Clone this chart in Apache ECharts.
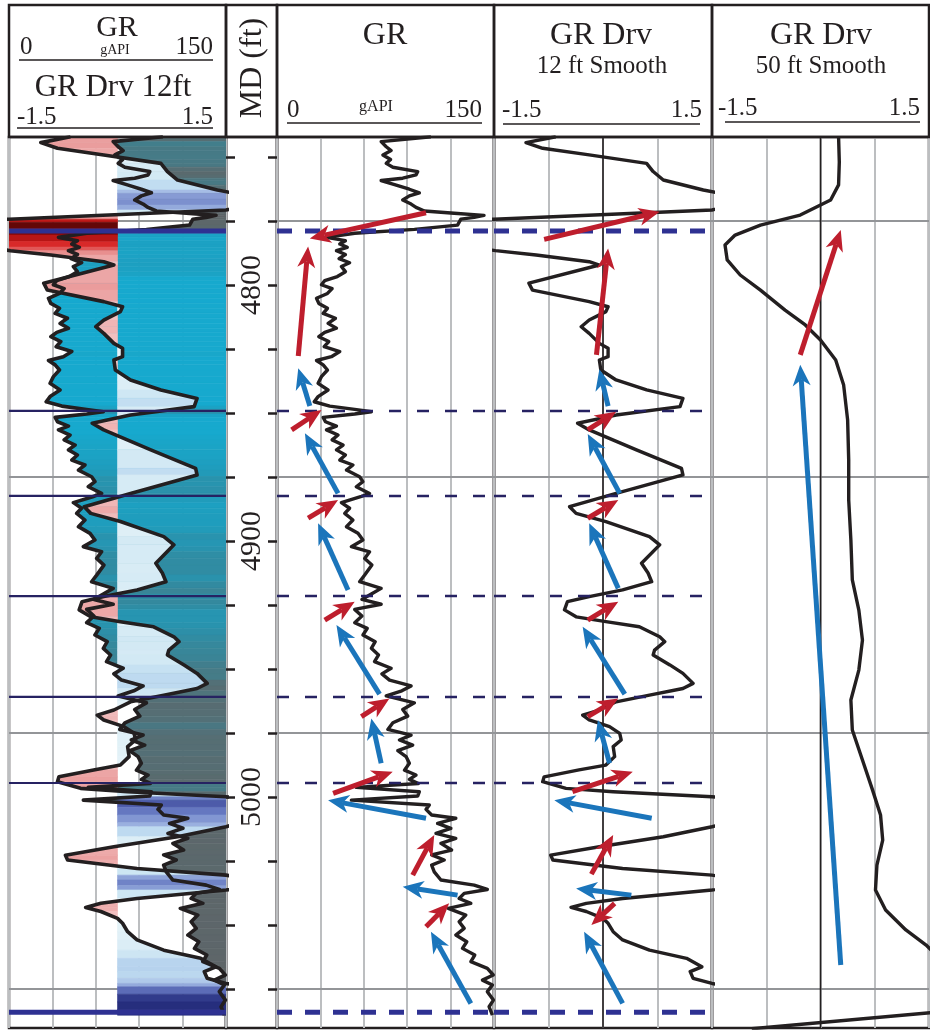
<!DOCTYPE html>
<html>
<head>
<meta charset="utf-8">
<title>GR derivative log</title>
<script src="https://cdn.jsdelivr.net/npm/echarts@6/dist/echarts.min.js"></script>
<style>
html, body { margin: 0; background: #fff; }
#main { width: 930px; height: 1030px; }
</style>
</head>
<body>
<div id="main"></div>
<script>
// depth window (ft MD)
var depthTop = 4742.2, depthBottom = 5090.2;

// GR log, [depth, gAPI]
var grCurve = [
  [4742.1,106.4],[4744.0,72.0],[4746.0,75.5],[4747.5,78.9],[4749.2,73.2],[4751.0,78.5],[4752.5,75.5],[4754.0,80.1],
  [4755.7,97.3],[4757.0,96.1],[4758.3,86.9],[4759.2,72.0],[4761.0,82.4],[4762.6,91.5],[4764.0,98.4],[4765.2,91.5],
  [4766.8,86.9],[4768.4,92.7],[4769.7,96.1],[4771.1,101.9],[4772.0,122.5],[4772.8,143.1],[4773.6,136.3],[4774.3,127.1],
  [4776.6,124.8],[4778.3,95.0],[4779.8,53.7],[4781.4,34.2],
  [4782.7,47.3],[4784.0,43.4],[4785.3,48.6],[4786.6,41.1],[4788.1,47.3],[4789.7,42.9],[4791.3,50.2],[4792.8,44.5],
  [4794.8,47.3],[4796.7,41.7],[4798.3,33.0],[4799.9,30.7],[4801.4,38.1],[4803.3,34.9],[4805.2,27.3],[4807.2,28.9],
  [4809.1,34.9],[4811.1,31.9],[4813.0,40.4],[4815.0,35.3],[4816.9,41.1],[4818.5,33.0],[4820.2,28.9],[4822.1,35.8],
  [4824.1,32.6],[4826.0,43.4],[4828.0,37.6],[4829.5,27.3],[4831.2,31.9],[4833.2,34.9],[4835.8,30.7],[4838.4,28.4],
  [4841.0,35.3],[4843.6,28.4],[4845.6,25.7],[4847.3,36.5],[4848.6,53.7],[4849.5,65.2],[4850.4,53.7],[4851.7,31.9],
  [4853.4,33.5],[4855.1,41.1],[4856.6,34.2],[4858.6,42.2],[4860.5,38.1],[4862.5,45.7],[4864.4,41.1],[4866.4,47.3],
  [4868.4,43.4],[4870.3,52.5],[4872.3,48.0],[4874.9,57.1],[4876.8,59.4],[4878.8,54.8],[4881.4,64.0],[4882.7,57.8],
  [4885.0,44.5],[4887.2,50.2],[4889.2,46.8],[4891.8,52.5],[4894.4,48.0],[4897.0,56.0],[4899.6,59.4],[4902.2,51.4],
  [4904.2,64.0],[4906.8,60.6],[4909.4,65.6],
  [4913.3,60.6],[4915.9,57.1],[4918.5,72.0],[4920.7,65.2],[4922.8,58.7],[4924.7,72.0],[4926.7,53.7],[4929.3,58.7],
  [4931.9,53.7],[4934.1,62.4],[4936.7,59.4],[4939.3,67.9],[4941.9,65.2],[4944.5,70.2],[4947.1,67.4],[4949.7,78.9],
  [4951.9,72.5],[4954.3,77.8],[4956.6,92.7],[4958.5,86.3],[4960.5,75.5],[4963.2,95.0],[4965.8,86.9],[4968.4,90.4],
  [4971.0,80.1],[4973.6,76.6],[4975.8,92.7],[4977.7,84.6],[4979.7,93.8],[4981.9,83.5],[4984.2,89.2],[4986.8,91.5],
  [4989.5,88.1],[4991.4,96.1],[4993.1,91.5],[4994.7,97.7],[4996.2,54.8],[4997.9,98.4],[4999.6,97.3],[5001.2,51.4],
  [5003.1,105.3],[5004.8,103.0],[5007.0,106.9],[5008.3,123.6],[5010.3,111.0],[5012.2,120.2],[5014.2,109.9],[5016.1,123.6],
  [5018.1,113.3],[5020.7,120.7],[5022.6,106.9],[5024.6,115.6],[5026.6,106.9],[5029.2,108.7],[5032.4,113.3],[5034.4,136.3],
  [5036.1,145.4],[5037.6,129.4],[5039.6,125.9],[5041.5,134.0],[5043.5,118.4],[5046.1,130.5],[5048.7,125.9],[5051.3,129.4],
  [5053.9,123.6],[5056.5,131.2],[5059.1,128.2],[5061.7,136.7],[5064.3,134.0],[5066.9,145.4],[5069.5,149.5],[5071.5,142.0],
  [5073.4,148.9],[5076.0,145.4],[5079.3,149.6],[5081.9,146.6],[5085.2,148.9]
];

// GR derivative, 12 ft smooth, [depth, value]
var drv12Curve = [
  [4742.1,-0.65],[4744.4,-1.06],[4746.6,-0.83],[4749.2,-0.19],[4752.5,0.60],[4755.7,0.69],[4759.0,0.83],[4762.9,1.38],
  [4764.2,1.62],[4766.5,1.9],[4768.8,1.8],[4770.7,1.5],[4774.3,-1.5],[4775.5,-2.9],[4778.0,-3.0],[4780.5,-2.5],
  [4783.0,-2.1],[4785.2,-1.8],[4786.6,-1.48],[4788.3,-0.92],[4790.9,-0.19],[4792.2,-0.05],[4799.3,-1.02],[4802.0,-0.97],
  [4806.5,-0.19],[4808.5,0.07],[4810.4,0.04],[4813.7,-0.19],[4816.3,-0.30],[4818.9,-0.19],[4822.8,-0.05],[4824.7,0.07],
  [4828.0,0.07],[4829.3,-0.05],[4833.2,-0.03],[4837.1,0.18],[4841.0,0.60],[4844.3,1.10],[4847.5,1.06],[4850.8,0.18],
  [4854.0,-0.35],[4856.6,-0.19],[4864.4,0.46],[4871.6,1.08],[4874.2,1.10],[4881.4,0.18],[4886.6,-0.46],[4889.2,-0.37],
  [4892.4,0.04],[4898.3,0.64],[4901.5,0.78],[4908.7,0.53],[4912.5,0.62],[4915.9,0.67],[4919.1,0.27],[4921.7,-0.19],
  [4923.7,-0.49],[4926.9,-0.53],[4929.6,-0.37],[4931.5,0.04],[4933.5,0.50],[4937.4,0.78],[4939.3,0.85],[4942.6,0.71],
  [4944.5,0.69],[4948.4,0.92],[4951.7,1.10],[4955.6,1.24],[4957.6,1.10],[4960.2,0.64],[4962.8,0.18],[4966.0,-0.05],
  [4968.0,-0.28],[4969.9,-0.19],[4972.5,0.09],[4975.1,0.23],[4977.7,0.25],[4980.3,0.14],[4984.2,0.16],[4987.5,0.04],
  [4989.4,-0.33],[4992.1,-0.81],[4994.0,-0.83],[4996.6,-0.51],[4997.9,0.14],[4999.9,1.50],[5001.2,2.4],[5004.0,2.2],
  [5007.0,1.9],[5010.0,1.7],[5011.6,1.50],[5015.5,0.83],[5019.4,-0.05],[5022.7,-0.72],[5024.6,-0.69],[5027.9,0.27],
  [5030.5,1.50],[5032.4,1.9],[5034.5,2.0],[5036.3,1.50],[5039.6,0.27],[5041.5,-0.23],[5043.1,-0.44],[5044.7,-0.23],
  [5047.4,0.00],[5049.3,0.07],[5052.6,0.14],[5055.8,0.27],[5059.8,0.64],[5063.0,1.15],[5066.3,1.36],[5068.2,1.20],
  [5070.8,1.24],[5072.8,1.50],[5074.1,1.8],[5077.0,2.5],[5080.0,2.9],[5083.0,3.0],[5085.2,3.0]
];

// GR derivative, 50 ft smooth, [depth, value]
var drv50Curve = [
  [4742.2,0.25],[4752.0,0.26],[4760.9,0.25],[4766.8,0.14],[4772.7,-0.28],[4776.6,-0.83],[4780.5,-1.18],[4784.4,-1.32],
  [4790.2,-1.29],[4796.1,-1.11],[4802.0,-0.83],[4809.8,-0.49],[4815.6,-0.21],[4821.5,0.0],[4829.3,0.21],[4839.1,0.32],
  [4852.7,0.375],[4868.4,0.39],[4884.0,0.39],[4899.6,0.42],[4915.2,0.44],[4927.0,0.53],[4938.7,0.58],[4950.4,0.53],
  [4962.1,0.42],[4973.8,0.44],[4985.5,0.58],[4997.3,0.72],[5007.0,0.83],[5016.8,0.86],[5026.6,0.78],[5036.3,0.76],
  [5044.1,0.90],[5051.9,1.18],[5057.8,1.46],[5061.7,1.6],[5070.0,1.9],[5078.0,1.9],[5084.0,1.6],[5090.5,-0.95]
];

var tickDepths = [4750,4775,4800,4825,4850,4875,4900,4925,4950,4975,5000,5025,5050,5075];
var labelDepths = [4800,4900,5000];
var gridDepths = [4775,4875,4975,5075];
var boundaryDepths = [4778.9,5084.0];
var markerDepths = [4849.2,4882.4,4921.5,4960.9,4994.5];

// trend arrows: [fromValue, fromDepth, toValue, toDepth]
var grRedArrows = [
  [103.0,4771.8,22.7,4781.8],[14.7,4827.7,21.5,4785.0],[10.1,4856.6,30.8,4848.8],[21.5,4891.1,42.2,4884.0],
  [33.0,4930.9,53.7,4923.7],[58.3,4968.6,77.7,4961.5],[38.8,4998.6,80.0,4990.1],[93.8,5030.5,108.7,5014.8],
  [103.0,5050.7,119.0,5041.5]
];
var grBlueArrows = [
  [22.7,4847.3,14.7,4832.5],[42.2,4881.4,19.3,4857.9],[49.1,4919.1,28.4,4893.1],[70.9,4959.8,41.1,4932.8],
  [72.0,4986.8,65.2,4969.3],[103.0,5008.3,35.3,5001.2],[124.8,5038.3,86.9,5035.0],[134.0,5080.6,106.4,5052.6]
];
var drv12RedArrows = [
  [-0.81,4782.2,0.78,4771.4],[-0.09,4827.3,0.07,4785.7],[-0.21,4856.6,0.18,4849.5],[-0.21,4891.1,0.21,4884.0],
  [-0.21,4930.9,0.21,4923.7],[-0.21,4968.6,0.21,4961.5],[-0.42,4997.9,0.41,4990.1],[-0.16,5030.1,0.14,5014.8],
  [0.16,5041.5,-0.16,5050.0]
];
var drv12BlueArrows = [
  [0.07,4847.3,-0.05,4832.9],[0.23,4881.4,-0.21,4858.2],[0.21,4918.5,-0.19,4893.1],[0.30,4959.8,-0.28,4933.5],
  [0.09,4986.8,-0.07,4969.9],[0.67,5008.3,-0.67,5001.2],[0.39,5038.3,-0.37,5035.7],[0.27,5080.6,-0.26,5052.6]
];
var drv50RedArrows = [[-0.28,4827.3,0.28,4778.5]];
var drv50BlueArrows = [[0.28,5065.6,-0.28,4831.2]];

var INK = '#231f20';
var SERIF = 'Liberation Serif';
var RED = '#be1e2d', BLUE = '#1b75bb';

// colour ramps for the variable fills
var grRamp = [[0,'#14aad0'],[38,'#17a9ce'],[50,'#1f9dbd'],[62,'#2e8ea6'],[72,'#3f808f'],[82,'#51727a'],[95,'#5a6a6e'],[150,'#5f6467']];
var negRamp = [[0,'#f3c8c8'],[0.4,'#eda9a9'],[1.1,'#e99a9a'],[1.5,'#e46c6c'],[2.0,'#d72222'],[2.5,'#a10e0e'],[3.0,'#5c0606']];
var posRamp = [[0,'#e6f3f8'],[0.8,'#d2e9f4'],[1.2,'#bcd9f0'],[1.5,'#a6bde6'],[2.0,'#6a7cc4'],[2.5,'#3a4597'],[3.0,'#242b7a']];

function hexRgb(h) {
  return [parseInt(h.substr(1,2),16), parseInt(h.substr(3,2),16), parseInt(h.substr(5,2),16)];
}
function ramp(stops, v) {
  if (v <= stops[0][0]) return stops[0][1];
  for (var i = 1; i < stops.length; i++) {
    if (v <= stops[i][0]) {
      var t = (v - stops[i-1][0]) / (stops[i][0] - stops[i-1][0]);
      var a = hexRgb(stops[i-1][1]), b = hexRgb(stops[i][1]);
      return 'rgb(' + Math.round(a[0]+(b[0]-a[0])*t) + ',' + Math.round(a[1]+(b[1]-a[1])*t) + ',' + Math.round(a[2]+(b[2]-a[2])*t) + ')';
    }
  }
  return stops[stops.length-1][1];
}
function drvColor(v) { return v < 0 ? ramp(negRamp, -v) : ramp(posRamp, v); }

// [depth, value] pairs -> segments [v0, d0, v1, d1]
function segments(curve) {
  var out = [];
  for (var i = 0; i < curve.length - 1; i++) out.push([curve[i][1], curve[i][0], curve[i+1][1], curve[i+1][0]]);
  return out;
}
function xy(curve) { return curve.map(function (p) { return [p[1], p[0]]; }); }

function poly(pts, c) {
  return { type: 'polygon', shape: { points: pts }, style: { fill: c, stroke: c, lineWidth: 0.6 } };
}

function grFill(params, api) {
  var g0 = api.value(0), d0 = api.value(1), g1 = api.value(2), d1 = api.value(3);
  return poly([api.coord([g0,d0]), api.coord([g1,d1]), api.coord([150,d1]), api.coord([150,d0])], ramp(grRamp, (g0+g1)/2));
}

function drvFill(params, api) {
  var v0 = api.value(0), d0 = api.value(1), v1 = api.value(2), d1 = api.value(3);
  var kids = [];
  if (v0 * v1 >= 0) {
    kids.push(poly([api.coord([v0,d0]), api.coord([v1,d1]), api.coord([0,d1]), api.coord([0,d0])], drvColor((v0+v1)/2)));
  } else {
    var dc = d0 + (d1 - d0) * v0 / (v0 - v1);
    kids.push(poly([api.coord([v0,d0]), api.coord([0,dc]), api.coord([0,d0])], drvColor(v0/2)));
    kids.push(poly([api.coord([0,dc]), api.coord([v1,d1]), api.coord([0,d1])], drvColor(v1/2)));
  }
  return { type: 'group', children: kids };
}

function lineCurve(xi, curve, w) {
  return {
    type: 'line', xAxisIndex: xi, yAxisIndex: yOf[xi], data: xy(curve), symbol: 'none', silent: true, z: 5,
    lineStyle: { color: INK, width: w, join: 'round' }
  };
}

function hLines(xi, depths, color, width, dash, z) {
  return {
    type: 'custom', xAxisIndex: xi, yAxisIndex: yOf[xi], silent: true, z: z, clip: true,
    data: depths.map(function (d) { return [0, d]; }),
    renderItem: function (params, api) {
      var cs = params.coordSys;
      var y = api.coord([0, api.value(1)])[1];
      return { type: 'line', shape: { x1: cs.x, y1: y, x2: cs.x + cs.width, y2: y },
        style: { stroke: color, lineWidth: width, lineDash: dash || null } };
    }
  };
}

function zeroLine(xi) {
  return {
    type: 'custom', xAxisIndex: xi, yAxisIndex: yOf[xi], silent: true, z: 3,
    data: [[0, depthTop]],
    renderItem: function (params, api) {
      var cs = params.coordSys;
      var x = api.coord([0, depthTop])[0];
      return { type: 'line', shape: { x1: x, y1: cs.y, x2: x, y2: cs.y + cs.height },
        style: { stroke: INK, lineWidth: 1.6 } };
    }
  };
}

function arrows(xi, list, color) {
  return {
    type: 'custom', xAxisIndex: xi, yAxisIndex: yOf[xi], silent: true, z: 8,
    data: list,
    renderItem: function (params, api) {
      var p1 = api.coord([api.value(0), api.value(1)]);
      var p2 = api.coord([api.value(2), api.value(3)]);
      var dx = p2[0] - p1[0], dy = p2[1] - p1[1];
      var len = Math.sqrt(dx*dx + dy*dy);
      var ux = dx / len, uy = dy / len, nx = -uy, ny = ux;
      var L = 21, W = 9, N = 6;
      var bx = p2[0] - ux*L, by = p2[1] - uy*L;
      var notch = [p2[0] - ux*(L-N), p2[1] - uy*(L-N)];
      return { type: 'group', children: [
        { type: 'line', shape: { x1: p1[0], y1: p1[1], x2: notch[0], y2: notch[1] }, style: { stroke: color, lineWidth: 5 } },
        { type: 'polygon', shape: { points: [p2, [bx + nx*W, by + ny*W], notch, [bx - nx*W, by - ny*W]] }, style: { fill: color } }
      ] };
    }
  };
}

// x axis index -> y axis index
var yOf = { 0: 0, 1: 0, 2: 1, 3: 3, 4: 4, 5: 5 };

function xAx(grid, min, max, interval, split) {
  return {
    type: 'value', gridIndex: grid, min: min, max: max, interval: interval, position: 'top',
    axisLine: { show: false }, axisTick: { show: false }, axisLabel: { show: false },
    splitLine: { show: split, lineStyle: { color: '#bcbec0', width: 2 } }
  };
}
function yAx(grid) {
  return { type: 'value', gridIndex: grid, min: depthTop, max: depthBottom, inverse: true, show: false, splitLine: { show: false } };
}
function depthAx(pos, labels) {
  return {
    type: 'value', gridIndex: 1, min: depthTop, max: depthBottom, inverse: true, position: pos,
    axisLine: { show: false },
    axisTick: { show: true, inside: true, length: 9, customValues: tickDepths, lineStyle: { color: INK, width: 2.5 } },
    axisLabel: { show: labels, inside: true, customValues: labelDepths, rotate: 90, margin: 26,
      formatter: function (v) { return String(v); },
      fontFamily: SERIF, fontSize: 30, color: INK, align: 'center', verticalAlign: 'middle' },
    splitLine: { show: false }
  };
}

function gridBox(left, width) {
  return { left: left, top: 137, width: width, height: 891, show: true, borderColor: INK, borderWidth: 2.5, backgroundColor: 'transparent' };
}

function txt(s, x, y, size, align, rot) {
  return {
    type: 'text', x: x, y: y, rotation: rot || 0, silent: true, z: 10,
    style: { text: s, fill: INK, font: size + 'px "' + SERIF + '"', textAlign: align || 'center', align: align || 'center',
      textVerticalAlign: 'middle', verticalAlign: 'middle' }
  };
}
function rule(x1, y1, x2) {
  return { type: 'line', silent: true, z: 10, shape: { x1: x1, y1: y1, x2: x2, y2: y1 }, style: { stroke: INK, lineWidth: 1.5 } };
}
function box(x, w) {
  return { type: 'rect', silent: true, z: 10, shape: { x: x, y: 5, width: w, height: 132 }, style: { fill: 'none', stroke: INK, lineWidth: 2.5 } };
}

var header = [
  box(9, 217), box(226, 51), box(277, 217), box(494, 218), box(712, 217),
  txt('GR', 117, 28, 30), txt('0', 20, 47, 25, 'left'), txt('gAPI', 115, 50, 14), txt('150', 213, 47, 25, 'right'),
  rule(19, 60, 213),
  txt('GR Drv 12ft', 113, 88, 31), txt('-1.5', 17, 117, 25, 'left'), txt('1.5', 213, 117, 25, 'right'),
  rule(17, 128, 213),
  txt('MD (ft)', 253, 68, 32, 'center', Math.PI / 2),
  txt('GR', 385, 36, 32), txt('0', 287, 110, 25, 'left'), txt('gAPI', 376, 107, 16), txt('150', 482, 110, 25, 'right'),
  rule(287, 123, 482),
  txt('GR Drv', 601, 36, 32), txt('12 ft Smooth', 602, 66, 25), txt('-1.5', 502, 110, 25, 'left'), txt('1.5', 702, 110, 25, 'right'),
  rule(503, 124, 700),
  txt('GR Drv', 821, 36, 32), txt('50 ft Smooth', 821, 66, 25), txt('-1.5', 718, 108, 25, 'left'), txt('1.5', 920, 108, 25, 'right'),
  rule(725, 122, 920)
];

var THICK = '#2e3192', THIN = '#262262';

var option = {
  animation: false,
  backgroundColor: '#ffffff',
  grid: [gridBox(9, 217), gridBox(226, 51), gridBox(277, 217), gridBox(494, 218), gridBox(712, 217)],
  xAxis: [
    xAx(0, 0, 150, 30, true),
    xAx(0, -1.5, 1.5, 0.75, false),
    xAx(1, 0, 1, 1, false),
    xAx(2, 0, 150, 30, true),
    xAx(3, -1.5, 1.5, 0.75, true),
    xAx(4, -1.5, 1.5, 0.75, true)
  ],
  yAxis: [yAx(0), depthAx('left', true), depthAx('right', false), yAx(2), yAx(3), yAx(4)],
  graphic: { elements: header },
  series: [
    // track 1: GR + GR Drv 12ft with variable fills
    hLines(0, gridDepths, '#939598', 2, null, 1),
    { type: 'custom', xAxisIndex: 0, yAxisIndex: 0, silent: true, clip: true, z: 2, data: segments(grCurve), renderItem: grFill },
    { type: 'custom', xAxisIndex: 1, yAxisIndex: 0, silent: true, clip: true, z: 3, data: segments(drv12Curve), renderItem: drvFill },
    lineCurve(0, grCurve, 3.6),
    lineCurve(1, drv12Curve, 3.6),
    hLines(0, markerDepths, THIN, 2.2, null, 6),
    hLines(0, boundaryDepths, THICK, 5, null, 6),

    // GR track
    hLines(3, gridDepths, '#939598', 2, null, 1),
    lineCurve(3, grCurve, 3.4),
    hLines(3, markerDepths, THIN, 2.5, [12, 16], 6),
    hLines(3, boundaryDepths, THICK, 5, [15, 13], 6),
    arrows(3, grRedArrows, RED),
    arrows(3, grBlueArrows, BLUE),

    // GR Drv 12 ft smooth
    hLines(4, gridDepths, '#939598', 2, null, 1),
    zeroLine(4),
    lineCurve(4, drv12Curve, 3.4),
    hLines(4, markerDepths, THIN, 2.5, [12, 16], 6),
    hLines(4, boundaryDepths, THICK, 5, [15, 13], 6),
    arrows(4, drv12RedArrows, RED),
    arrows(4, drv12BlueArrows, BLUE),

    // GR Drv 50 ft smooth
    hLines(5, gridDepths, '#939598', 2, null, 1),
    zeroLine(5),
    lineCurve(5, drv50Curve, 3.4),
    arrows(5, drv50RedArrows, RED),
    arrows(5, drv50BlueArrows, BLUE)
  ]
};

var chart = echarts.init(document.getElementById('main'), null, { renderer: 'canvas' });
chart.setOption(option);
</script>
</body>
</html>
